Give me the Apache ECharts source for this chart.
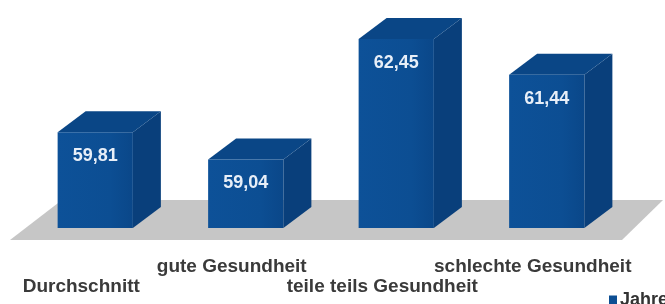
<!DOCTYPE html>
<html>
<head>
<meta charset="utf-8">
<style>
  html, body { margin: 0; padding: 0; background: #ffffff; }
  #chart { width: 665px; height: 304px; }
</style>
<script src="https://cdn.jsdelivr.net/npm/echarts@6/dist/echarts.min.js"></script>
</head>
<body>
<div id="chart"></div>
<script>
// ---- data ----
const categories = ['Durchschnitt', 'gute Gesundheit', 'teile teils Gesundheit', 'schlechte Gesundheit'];
const values = [59.81, 59.04, 62.45, 61.44];
const valueLabels = ['59,81', '59,04', '62,45', '61,44'];
const seriesName = 'Jahre';

const Y_MIN = 57.1;
const Y_MAX = 63.3;
const DX = 28, DY = 21;

const chart = echarts.init(document.getElementById('chart'), null, { renderer: 'canvas' });

function floorRender(params, api) {
  const cs = params.coordSys;
  const yb = cs.y + cs.height;
  const left = cs.x, right = cs.x + cs.width;
  return {
    type: 'polygon',
    shape: { points: [
      [left - 10, yb + 12],
      [left + 42, yb - 28],
      [right + 41, yb - 28],
      [right, yb + 12]
    ] },
    style: { fill: '#c6c6c6' },
    z2: 0
  };
}

function barRender(params, api) {
  const idx = api.value(0);
  const val = api.value(1);
  const top = api.coord([idx, val]);
  const base = api.coord([idx, Y_MIN]);
  const w = api.size([1, 0])[0] * 0.5;
  const x0 = top[0] - w / 2, x1 = top[0] + w / 2;
  const yt = top[1], yb = base[1];
  return {
    type: 'group',
    children: [
      {
        type: 'polygon',
        shape: { points: [[x1, yt], [x1 + DX, yt - DY], [x1 + DX, yb - DY], [x1, yb]] },
        style: { fill: '#093f7b' }
      },
      {
        type: 'polygon',
        shape: { points: [[x0, yt], [x0 + DX, yt - DY], [x1 + DX, yt - DY], [x1, yt]] },
        style: { fill: '#0a4686' }
      },
      {
        type: 'rect',
        shape: { x: x0, y: yt, width: w, height: yb - yt },
        style: {
          fill: new echarts.graphic.LinearGradient(0, 0, 1, 0, [
            { offset: 0, color: '#0d5198' },
            { offset: 0.7, color: '#0c4e93' },
            { offset: 1, color: '#0a4789' }
          ])
        }
      },
      {
        type: 'text',
        x: top[0],
        y: yt + 24,
        style: {
          text: valueLabels[idx],
          fill: '#e8eff8',
          font: 'bold 18px "Liberation Sans", Arial, sans-serif',
          align: 'center',
          verticalAlign: 'middle'
        }
      }
    ]
  };
}

const option = {
  backgroundColor: '#ffffff',
  animation: false,
  grid: { left: 20, right: 43, top: 9, bottom: 76, containLabel: false },
  legend: {
    data: [{ name: seriesName, icon: 'rect' }],
    left: 604,
    top: 286,
    itemWidth: 8,
    itemHeight: 9,
    itemGap: 4,
    textStyle: {
      color: '#333333',
      fontFamily: '"Liberation Sans", Arial, sans-serif',
      fontWeight: 'bold',
      fontSize: 18,
      padding: [0, 0, 0, -2]
    }
  },
  xAxis: {
    type: 'category',
    data: categories,
    axisLine: { show: false },
    axisTick: { show: false },
    splitLine: { show: false },
    axisLabel: {
      interval: 0,
      margin: 29,
      color: '#3a3a3a',
      fontFamily: '"Liberation Sans", Arial, sans-serif',
      fontWeight: 'bold',
      fontSize: 19,
      lineHeight: 20,
      padding: [0, 28, 0, 0],
      formatter: function (v, i) { return i % 2 === 0 ? ' \n' + v : v; }
    }
  },
  yAxis: {
    type: 'value',
    min: Y_MIN,
    max: Y_MAX,
    show: false,
    splitLine: { show: false }
  },
  series: [
    {
      name: 'floor',
      type: 'custom',
      renderItem: floorRender,
      data: [[0, Y_MIN]],
      encode: { x: 0, y: 1 },
      silent: true,
      z: 1
    },
    {
      name: seriesName,
      type: 'custom',
      renderItem: barRender,
      itemStyle: { color: '#0c4e93' },
      data: values.map((v, i) => [i, v]),
      encode: { x: 0, y: 1 },
      z: 2
    }
  ]
};

chart.setOption(option);
</script>
</body>
</html>
